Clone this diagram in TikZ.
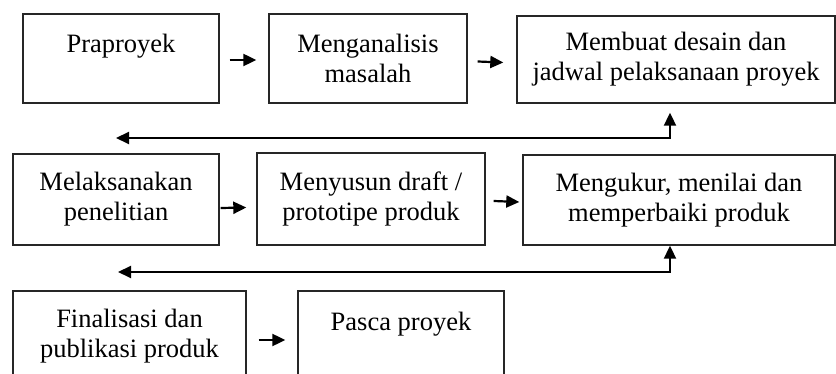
\documentclass[tikz,border=0pt]{standalone}
\usepackage{fontspec}
\setmainfont{Liberation Serif}
\usetikzlibrary{arrows.meta, positioning, calc}

\begin{document}
\begin{tikzpicture}[
    x=1pt, y=-1pt,
    stage/.style={rectangle, draw=black!85, line width=1.4pt, align=center, inner sep=0pt, font=\fontsize{26.5}{30}\selectfont},
    arrow/.style={-{Triangle[length=13pt,width=12pt]}, line width=2.2pt, black},
    backarrow/.style={{Triangle[length=13pt,width=12pt]}-{Triangle[length=13pt,width=12pt]}, line width=2pt, black}
]
    \clip (0,0) rectangle (836,374);

    % Row 1
    \node[stage, minimum width=196pt, minimum height=89pt] (prap) at (121,58.5) {Praproyek\\~};
    \node[stage, minimum width=198pt, minimum height=89pt] (anal) at (368,58.5) {Menganalisis\\masalah};
    \node[stage, minimum width=318pt, minimum height=87pt] (desain) at (676,59.5) {Membuat desain dan\\jadwal pelaksanaan proyek};

    % Row 2
    \node[stage, minimum width=206pt, minimum height=91pt] (laks) at (116,199.5) {Melaksanakan\\penelitian};
    \node[stage, minimum width=228pt, minimum height=92pt] (draft) at (371,199) {Menyusun draft /\\prototipe produk};
    \node[stage, minimum width=312pt, minimum height=90pt] (ukur) at (679,200) {Mengukur, menilai dan\\memperbaiki produk};

    % Row 3
    \node[stage, minimum width=233pt, minimum height=90pt] (final) at (129.5,336) {Finalisasi dan\\publikasi produk};
    \node[stage, minimum width=206pt, minimum height=90pt] (pasca) at (401,336) {Pasca proyek\\~};

    % Short arrows
    \draw[arrow] ([xshift=10pt,yshift=-1.5pt]prap.east) -- ([xshift=-12pt,yshift=-1.5pt]anal.west);
    \draw[arrow] ([xshift=10pt,yshift=-3pt]anal.east) -- ([xshift=-13pt,yshift=-3pt]desain.west);
    \draw[arrow] ([xshift=1pt,yshift=-8.5pt]laks.east) -- ([xshift=-10pt,yshift=-8.5pt]draft.west);
    \draw[arrow] ([xshift=8pt,yshift=-2pt]draft.east) -- ([xshift=-3pt,yshift=-2pt]ukur.west);
    \draw[arrow] ([xshift=12pt,yshift=-4pt]final.east) -- ([xshift=-12pt,yshift=-4pt]pasca.west);

    % Return lines
    \coordinate (back1) at (116,138);
    \coordinate (turn1) at (670,138);
    \coordinate (back2) at (118,272);
    \coordinate (turn2) at (670,272);
    \draw[backarrow, shorten >=9pt] (back1) -- (turn1) -- (turn1 |- desain.south);
    \draw[backarrow] (back2) -- (turn2) -- (turn2 |- ukur.south);

\end{tikzpicture}
\end{document}
